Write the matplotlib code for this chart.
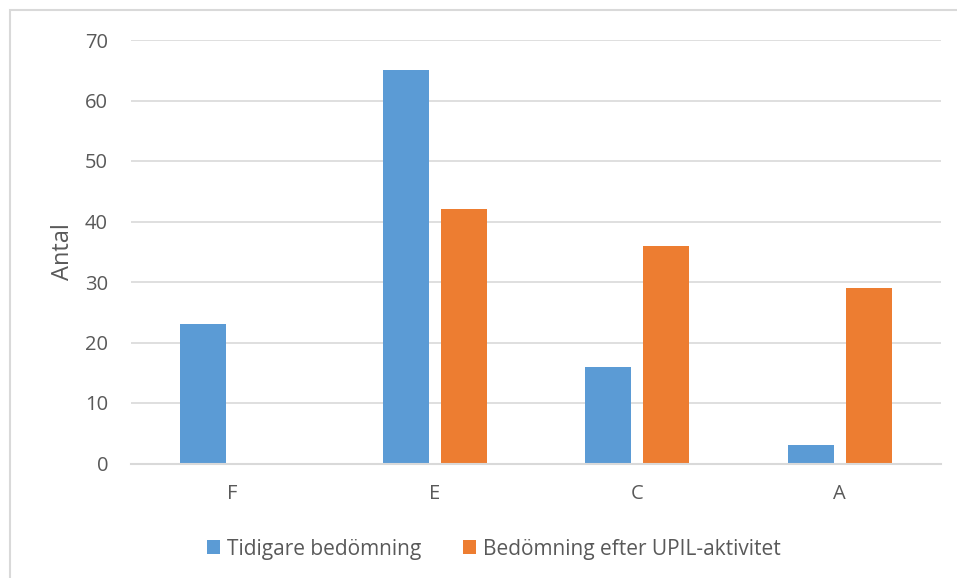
import matplotlib
matplotlib.use("Agg")
import matplotlib.pyplot as plt
from matplotlib.patches import Rectangle
import numpy as np

categories = ["F", "E", "C", "A"]
tidigare = [23, 65, 16, 3]
efter = [0, 42, 36, 29]
series_names = ["Tidigare bedömning", "Bedömning efter UPIL-aktivitet"]
yticks = [0, 10, 20, 30, 40, 50, 60, 70]

plt.rcParams['font.family'] = ['Open Sans', 'DejaVu Sans']
txt = '#595959'
grid = '#d9d9d9'

fig = plt.figure(figsize=(9.57, 5.78), dpi=100)
fig.patches.append(Rectangle((10/957, -0.1), 2, 1.1 - 10/578, transform=fig.transFigure,
                             fill=False, edgecolor=grid, linewidth=1.5))
ax = fig.add_axes([131/957, 1 - 463.5/578, (941 - 131)/957, (463.5 - 40)/578])

x = np.arange(len(categories))
w = 0.227
off = 0.143
ax.bar(x - off, tidigare, w, color='#5B9BD5', label=series_names[0], zorder=3)
ax.bar(x + off, efter, w, color='#ED7D31', label=series_names[1], zorder=3)

ax.set_xlim(-0.5, len(categories) - 0.5)
ax.set_ylim(0, 70)
ax.set_yticks(yticks)
ax.set_xticks(x)
ax.set_xticklabels(categories)
ax.yaxis.grid(True, color=grid, linewidth=1.2, zorder=0)
ax.set_axisbelow(True)
for s in ['top', 'right', 'left']:
    ax.spines[s].set_visible(False)
ax.spines['bottom'].set_color(grid)
ax.spines['bottom'].set_linewidth(1.5)
ax.spines['bottom'].set_zorder(4)
ax.tick_params(axis='both', length=0, labelsize=14.5, labelcolor=txt)
ax.tick_params(axis='y', pad=16.5)
ax.tick_params(axis='x', pad=15)
ax.set_ylabel("Antal", fontsize=17, color=txt, labelpad=7)

leg = fig.legend(loc='center', bbox_to_anchor=(494/957, 1 - 549/578), ncol=2, frameon=False,
                 fontsize=15, handlelength=0.62, handleheight=0.62, handletextpad=0.35,
                 columnspacing=2.0)
for t in leg.get_texts():
    t.set_color(txt)

fig.savefig("out.png", dpi=100)
